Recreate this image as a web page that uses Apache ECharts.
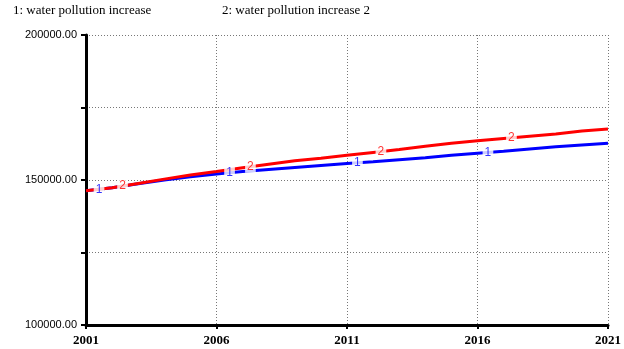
<!DOCTYPE html>
<html><head><meta charset="utf-8">
<script src="https://cdn.jsdelivr.net/npm/echarts@6/dist/echarts.min.js"></script>
<style>html,body{margin:0;padding:0;background:#fff}#c{width:624px;height:349px}</style>
</head><body><div id="c"></div>
<script>
var years = [2001,2002,2003,2004,2005,2006,2007,2008,2009,2010,2011,2012,2013,2014,2015,2016,2017,2018,2019,2020,2021];
var series1 = [146300,147300,148700,150000,151100,152100,152900,153600,154300,155000,155700,156300,157000,157700,158500,159200,159900,160700,161500,162100,162700];
var series2 = [146300,147300,148800,150300,151700,152900,154200,155400,156600,157500,158500,159500,160500,161600,162700,163500,164300,165100,165900,166900,167600];
var name1 = "1: water pollution increase";
var name2 = "2: water pollution increase 2";
var labelYears1 = [2001.5, 2006.5, 2011.4, 2016.4];
var labelYears2 = [2002.4, 2007.3, 2012.3, 2017.3];
var xTicks = [2001,2006,2011,2016,2021];
var yLabels = [100000,150000,200000];

function interp(arr, x){
  for (var i=0;i<years.length-1;i++){
    if (x>=years[i] && x<=years[i+1]){
      var t=(x-years[i])/(years[i+1]-years[i]);
      return arr[i]+(arr[i+1]-arr[i])*t;
    }
  }
  return arr[arr.length-1];
}
function pairs(arr){return years.map(function(y,i){return [y,arr[i]];});}
function labelSeries(arr, ly, txt, col){
  return {type:'scatter', data: ly.map(function(x){return [x, interp(arr,x)];}),
    symbolSize:0, z:5, silent:true,
    label:{show:true, position:'inside', formatter:txt, color:col, fontFamily:'Liberation Sans', fontSize:12,
      backgroundColor:'#fff', padding:[0,2,0,2]}};
}
var chart = echarts.init(document.getElementById('c'), null, {renderer:'canvas'});
chart.setOption({
  animation:false,
  graphic:[
    {type:'text', left:13, top:4, style:{text:name1, font:'13px "Liberation Serif"', fill:'#000'}},
    {type:'text', left:222, top:4, style:{text:name2, font:'13px "Liberation Serif"', fill:'#000'}}
  ],
  grid:{left:86, right:11, top:35, bottom:24},
  xAxis:{type:'value', min:2001, max:2021, interval:5,
    axisLine:{lineStyle:{color:'#000', width:3}},
    axisTick:{show:true, length:4, lineStyle:{color:'#000', width:2}},
    axisLabel:{color:'#000', fontFamily:'Liberation Serif', fontWeight:'bold', fontSize:13, margin:9,
      formatter:function(v){return xTicks.indexOf(v)>=0?String(v):'';}},
    splitLine:{show:true, lineStyle:{color:'#777', type:[1,2], width:1}}
  },
  yAxis:{type:'value', min:100000, max:200000, interval:25000,
    axisLine:{show:true, lineStyle:{color:'#000', width:3}},
    axisTick:{show:true, length:5, lineStyle:{color:'#000', width:2}},
    axisLabel:{color:'#000', fontFamily:'Liberation Sans', fontSize:11, margin:9,
      formatter:function(v){return yLabels.indexOf(v)>=0?v.toFixed(2):'';}},
    splitLine:{show:true, lineStyle:{color:'#777', type:[1,2], width:1}}
  },
  series:[
    {type:'line', name:name1, data:pairs(series1), showSymbol:false, lineStyle:{color:'#0000ff', width:3}, z:3},
    {type:'line', name:name2, data:pairs(series2), showSymbol:false, lineStyle:{color:'#ff0000', width:3}, z:4},
    labelSeries(series1, labelYears1, '1', '#0000ff'),
    labelSeries(series2, labelYears2, '2', '#ff0000')
  ]
});
</script></body></html>
